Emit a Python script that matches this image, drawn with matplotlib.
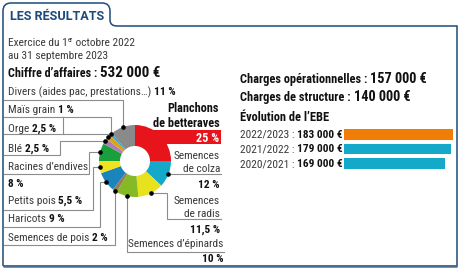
import matplotlib
matplotlib.use("Agg")
import matplotlib.pyplot as plt
from matplotlib import font_manager as fm
from matplotlib.path import Path
from matplotlib.patches import PathPatch, Rectangle
import numpy as np

# ---------------- data ----------------
title = "LES RÉSULTATS"
period_parts = ["Exercice du 1", "er", " octobre 2022"]
period_line2 = "au 31 septembre 2023"
ca_label = "Chiffre d’affaires : "
ca_value = "532 000 €"

categories = ["Planchons de betteraves", "Semences de colza", "Semences de radis",
              "Semences d’épinards", "Semences de pois", "Haricots", "Petits pois",
              "Racines d’endives", "Blé", "Orge", "Maïs grain",
              "Divers (aides pac, prestations…)"]
shares = [25, 12, 11.5, 10, 2, 9, 5.5, 8, 2.5, 2.5, 1, 11]
share_labels = ["25 %", "12 %", "11,5 %", "10 %", "2 %", "9 %", "5,5 %", "8 %",
                "2,5 %", "2,5 %", "1 %", "11 %"]
wedge_colors = ["#e8141c", "#15a9c9", "#e8e21e", "#85ba27", "#9c7a4e", "#1a85bd",
                "#f2e31c", "#19a03c", "#ae7bb5", "#d8a31f", "#2aa7df", "#8a8a8a"]

charges_labels = ["Charges opérationnelles : ", "Charges de structure : "]
charges_values = ["157 000 €", "140 000 €"]
ebe_title = "Évolution de l’EBE"
ebe_years = ["2022/2023", "2021/2022", "2020/2021"]
ebe_values = [183000, 179000, 169000]
ebe_value_labels = ["183 000 €", "179 000 €", "169 000 €"]
ebe_colors = ["#f07d05", "#14a9c8", "#14a9c8"]

# ---------------- fonts ----------------
names = {f.name for f in fm.fontManager.ttflist}
NARROW = next((n for n in ["Roboto Condensed", "Archivo Narrow", "PT Sans Narrow",
                           "Liberation Sans Narrow", "Fira Sans Condensed",
                           "IBM Plex Sans Condensed", "Barlow Semi Condensed",
                           "Asap Condensed"] if n in names), "DejaVu Sans")
FAM = [NARROW, "DejaVu Sans"]
TITLE_FAM = ["Roboto", "Liberation Sans", "DejaVu Sans"]

REG = "#3a3a3a"
BLK = "#111111"
NAVY = "#1d4a7a"
LINE = "#8c8c8c"

W, H = 462, 270
fig = plt.figure(figsize=(W / 100, H / 100), dpi=100)
fig.patch.set_facecolor("white")
ax = fig.add_axes([0, 0, 1, 1])
renderer = fig.canvas.get_renderer()


def fit(txt, weight, target, fam=FAM):
    t = ax.text(0, 0, txt, fontsize=10, fontweight=weight, family=fam)
    w = t.get_window_extent(renderer).width
    t.remove()
    return 10 * target / w


FS = fit(period_line2, "normal", 99)
FB = fit("Chiffre d’affaires :", "bold", 89)
FV = fit(ca_value, "bold", 60)
FC = fit("Charges opérationnelles :", "bold", 127)
FCV = fit(charges_values[0], "bold", 57)
FT = fit(title, "bold", 94, TITLE_FAM)
FL = fit("de betteraves", "bold", 67)

# donut
CX, CY, R, RW = 135, 161, 36, 21
ax.pie(shares, colors=wedge_colors, radius=R, center=(CX, CY), startangle=-90,
       counterclock=True, wedgeprops=dict(width=RW, linewidth=0))
ax.set_xlim(0, W)
ax.set_ylim(H, 0)
ax.set_aspect("auto")
ax.axis("off")

# red band behind first label
ax.add_patch(Rectangle((140, 130), 81, 13.5, facecolor=wedge_colors[0],
                       edgecolor="none", zorder=0.5))

# frame with tab
verts = [(3, 266), (3, 11), (3, 3), (11, 3), (102, 3), (110, 3), (110, 11),
         (110, 20), (110, 26), (117, 26), (457, 26), (457, 266), (3, 266)]
codes = [Path.MOVETO, Path.LINETO, Path.CURVE3, Path.CURVE3, Path.LINETO,
         Path.CURVE3, Path.CURVE3, Path.LINETO, Path.CURVE3, Path.CURVE3,
         Path.LINETO, Path.LINETO, Path.LINETO]
ax.add_patch(PathPatch(Path(verts, codes), facecolor="none", edgecolor=NAVY,
                       lw=1.1, zorder=5))
ax.plot([3, 457], [266.3, 266.3], color="#4a6d93", lw=1.8, zorder=5,
        solid_capstyle="butt")


def rich(x, y, parts):
    """parts: list of (text, weight, size, color, dy)"""
    cx = x
    for txt, wt, sz, col, dy in parts:
        t = ax.text(cx, y + dy, txt, fontsize=sz, fontweight=wt, color=col,
                    family=FAM, ha="left", va="baseline", zorder=6)
        cx = t.get_window_extent(renderer).x1


ax.text(10, 20.5, title, fontsize=FT, fontweight="bold", color=NAVY,
        family=TITLE_FAM, va="baseline", zorder=6)

rich(8, 46, [(period_parts[0], "normal", FS, REG, 0),
             (period_parts[1], "normal", FS * 0.6, REG, -3.5),
             (period_parts[2], "normal", FS, REG, 0)])
rich(8, 59, [(period_line2, "normal", FS, REG, 0)])
rich(8, 77, [(ca_label, "bold", FB, BLK, 0), (ca_value, "bold", FV, BLK, 0)])

# left labels: (category index, baseline y)
left_rows = [(11, 95), (10, 113), (9, 132), (8, 152), (6, 204), (5, 222), (4, 241)]
for i, yb in left_rows:
    rich(8, yb, [(categories[i] + " ", "normal", FS, REG, 0),
                 (share_labels[i], "bold", FS, BLK, 0)])
rich(8, 170, [(categories[7], "normal", FS, REG, 0)])
rich(8, 187, [(share_labels[7], "bold", FS, BLK, 0)])

# right labels of donut
ax.text(219, 112, "Planchons", fontsize=FL, fontweight="bold", color=BLK,
        family=FAM, ha="right", va="baseline", zorder=6)
ax.text(220, 127, "de betteraves", fontsize=FL, fontweight="bold", color=BLK,
        family=FAM, ha="right", va="baseline", zorder=6)
ax.text(219, 141.8, share_labels[0], fontsize=FL, fontweight="bold", color="white",
        family=FAM, ha="right", va="baseline", zorder=6)
for i, (l1, l2, y1, y2, y3) in {1: ("Semences", "de colza", 159, 172, 188),
                                 2: ("Semences", "de radis", 204, 217, 233)}.items():
    ax.text(220, y1, l1, fontsize=FS, color=REG, family=FAM, ha="right", va="baseline")
    ax.text(220, y2, l2, fontsize=FS, color=REG, family=FAM, ha="right", va="baseline")
    ax.text(220, y3, share_labels[i], fontsize=FS, fontweight="bold", color=BLK,
            family=FAM, ha="right", va="baseline")
ax.text(223, 247, categories[3], fontsize=FS, color=REG, family=FAM, ha="right",
        va="baseline")
ax.text(223, 262, share_labels[3], fontsize=FS, fontweight="bold", color=BLK,
        family=FAM, ha="right", va="baseline")

# dots at wedge mid-angles + leader lines
cum = np.cumsum([0] + shares[:-1])
mids = -90 + 360 * (cum + np.array(shares) / 2) / 100.0
dots = [(CX + R * np.cos(np.radians(a)), CY + R * np.sin(np.radians(a))) for a in mids]


def route(i, pts):
    dx, dy = dots[i]
    xs = [dx] + [p[0] for p in pts]
    ys = [dy] + [p[1] for p in pts]
    ax.plot(xs, ys, color=LINE, lw=0.8, zorder=3, solid_joinstyle="miter")


route(11, [(dots[11][0], 100), (4, 100)])
route(10, [(dots[10][0], 117), (4, 117)])
route(9, [(dots[9][0], 134), (4, 134)])
ax.plot([63, 63], [117, 134], color=LINE, lw=0.8, zorder=3)
route(8, [(60, dots[8][1]), (60, 155), (4, 155)])
route(7, [(89, dots[7][1]), (89, 174), (4, 174)])
route(6, [(93, dots[6][1]), (93, 210), (4, 210)])
route(5, [(100, dots[5][1]), (100, 227), (4, 227)])
route(4, [(dots[4][0], 245), (4, 245)])
route(3, [(dots[3][0], 252), (224, 252)])
route(2, [(167, dots[2][1]), (167, 219), (221, 219)])
route(1, [(221, dots[1][1])])
for i in range(1, 12):
    ax.plot(*dots[i], "o", color="black", ms=2.3, zorder=4)

# right block
rich(240, 83, [(charges_labels[0], "bold", FC, BLK, 0), (charges_values[0], "bold", FCV, BLK, 0)])
rich(240, 101, [(charges_labels[1], "bold", FC, BLK, 0), (charges_values[1], "bold", FCV, BLK, 0)])
rich(240, 121, [(ebe_title, "bold", FC, BLK, 0)])
row_base = [137.5, 152.5, 167]
for yr, lab, yb in zip(ebe_years, ebe_value_labels, row_base):
    rich(240, yb, [(yr + " : ", "normal", FS, REG, 0), (lab, "bold", FS, BLK, 0)])

# EBE bars
bx0, bw = 344, 112
top, rowh = 127.3, 14.5
bax = fig.add_axes([bx0 / W, (H - (top + 3 * rowh)) / H, bw / W, 3 * rowh / H])
bax.barh(range(len(ebe_values)), ebe_values, height=0.72, color=ebe_colors)
bax.set_xlim(0, 188000)
bax.set_ylim(2.5, -0.5)
bax.axis("off")

fig.savefig("out.png", dpi=100, facecolor="white")
